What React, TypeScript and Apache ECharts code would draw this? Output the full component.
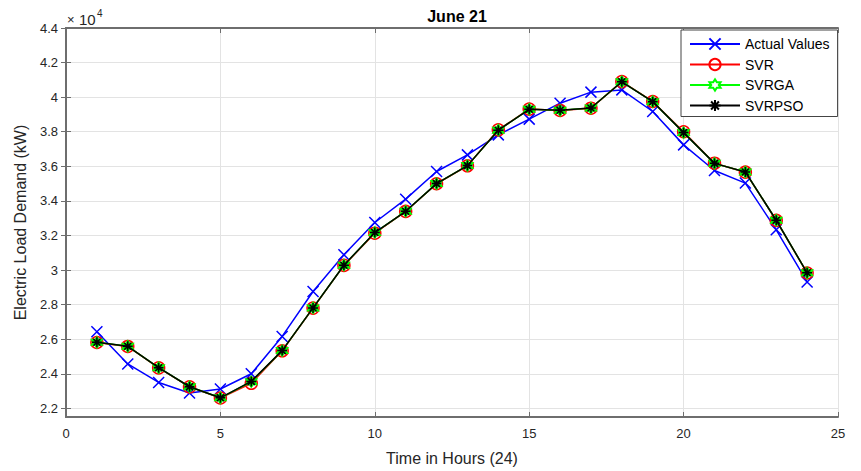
import React, { useEffect, useRef } from "react";
import * as echarts from "echarts";

const hours = [1, 2, 3, 4, 5, 6, 7, 8, 9, 10, 11, 12, 13, 14, 15, 16, 17, 18, 19, 20, 21, 22, 23, 24];
const actualValues = [26430, 24570, 23500, 22890, 23120, 24000, 26160, 28760, 30880, 32750, 34100, 35700, 36660, 37820, 38730, 39650, 40290, 40420, 39170, 37240, 35760, 35030, 32330, 29310];
const svrValues = [25810, 25580, 24340, 23240, 22600, 23450, 25330, 27800, 30270, 32130, 33390, 34990, 36030, 38110, 39310, 39230, 39360, 40900, 39750, 38000, 36180, 35660, 32870, 29830];
const svrgaValues = [25820, 25590, 24350, 23250, 22610, 23540, 25340, 27810, 30280, 32170, 33400, 35000, 36040, 38090, 39300, 39240, 39370, 40890, 39740, 37950, 36170, 35670, 32880, 29840];
const svrpsoValues = [25820, 25590, 24350, 23250, 22610, 23560, 25340, 27810, 30280, 32170, 33400, 35000, 36040, 38090, 39300, 39240, 39370, 40890, 39740, 37950, 36170, 35670, 32880, 29840];
const yTicks = [22000, 24000, 26000, 28000, 30000, 32000, 34000, 36000, 38000, 40000, 42000, 44000];

const FONT = "'Liberation Sans', Arial, Helvetica, sans-serif";
const AXIS_COLOR = "#6e6e6e";
const TEXT_COLOR = "#262626";
const GRID_COLOR = "#e3e3e3";

const SYM_X = "path://M0,0L10,10M10,0L0,10";
const SYM_STAR = "path://M5,0L5,10M0,5L10,5M1.5,1.5L8.5,8.5M8.5,1.5L1.5,8.5";
const SYM_HEX = "path://M5,0L6.44,2.5L9.33,2.5L7.89,5L9.33,7.5L6.44,7.5L5,10L3.56,7.5L0.67,7.5L2.11,5L0.67,2.5L3.56,2.5Z";

const pairs = (vals: number[]) => hours.map((h, i) => [h, vals[i]]);

export default function App() {
  const ref = useRef<HTMLDivElement>(null);
  useEffect(() => {
    document.body.style.margin = "0";
    const chart = echarts.init(ref.current!, null, { renderer: "svg" });
    const baseAxisLine = { show: true, lineStyle: { color: AXIS_COLOR, width: 2 } };
    chart.setOption({
      animation: false,
      backgroundColor: "#ffffff",
      textStyle: { fontFamily: FONT },
      title: {
        text: "June 21",
        left: 452,
        top: 3,
        textAlign: "center",
        textStyle: { fontFamily: FONT, fontSize: 16, fontWeight: "bold", color: "#000" },
      },
      legend: {
        orient: "vertical",
        left: 681,
        top: 30,
        padding: [7, 8, 4, 8],
        itemWidth: 50,
        itemHeight: 14,
        itemGap: 6.5,
        backgroundColor: "#ffffff",
        borderColor: "#444444",
        borderWidth: 1,
        textStyle: { fontFamily: FONT, fontSize: 14, color: "#000" },
        data: [
          { name: "Actual Values" },
          { name: "SVR" },
          { name: "SVRGA", itemStyle: { color: "#ffffff" } },
          { name: "SVRPSO" },
        ],
      },
      grid: { left: 66, right: 23, top: 28, bottom: 53, containLabel: false },
      xAxis: [
        {
          type: "value",
          min: 0,
          max: 25,
          interval: 5,
          name: "Time in Hours (24)",
          nameLocation: "middle",
          nameGap: 33,
          nameTextStyle: { fontFamily: FONT, fontSize: 16, color: TEXT_COLOR },
          axisLine: baseAxisLine,
          axisTick: { show: true, inside: true, length: 5, lineStyle: { color: AXIS_COLOR } },
          axisLabel: { fontFamily: FONT, fontSize: 13, color: TEXT_COLOR, margin: 10 },
          splitLine: { show: true, lineStyle: { color: GRID_COLOR, width: 1 } },
        },
        {
          type: "value",
          position: "top",
          min: 0,
          max: 25,
          interval: 5,
          axisLine: baseAxisLine,
          axisTick: { show: true, inside: true, length: 5, lineStyle: { color: AXIS_COLOR } },
          axisLabel: { show: false },
          splitLine: { show: false },
        },
      ],
      yAxis: [
        {
          type: "value",
          min: 21500,
          max: 44000,
          name: "Electric Load Demand (kW)",
          nameLocation: "middle",
          nameGap: 38,
          nameTextStyle: { fontFamily: FONT, fontSize: 16, color: TEXT_COLOR },
          axisLine: baseAxisLine,
          axisTick: { show: true, inside: true, length: 5, customValues: yTicks, lineStyle: { color: AXIS_COLOR } },
          axisLabel: {
            fontFamily: FONT,
            fontSize: 13,
            color: TEXT_COLOR,
            margin: 8,
            customValues: yTicks,
            formatter: (v: number) => String(Math.round(v / 1000) / 10),
          },
          splitLine: { show: true, customValues: yTicks, lineStyle: { color: GRID_COLOR, width: 1 } },
        },
        {
          type: "value",
          position: "right",
          min: 21500,
          max: 44000,
          axisLine: baseAxisLine,
          axisTick: { show: true, inside: true, length: 5, customValues: yTicks, lineStyle: { color: AXIS_COLOR } },
          axisLabel: { show: false, customValues: yTicks },
          splitLine: { show: false },
        },
      ],
      graphic: [
        {
          type: "text",
          left: 67,
          top: 13,
          style: { text: "×", fontFamily: FONT, fontSize: 13, fill: TEXT_COLOR },
        },
        {
          type: "text",
          left: 79,
          top: 12,
          style: { text: "10", fontFamily: FONT, fontSize: 15, fill: TEXT_COLOR },
        },
        {
          type: "text",
          left: 97,
          top: 8,
          style: { text: "4", fontFamily: FONT, fontSize: 10, fill: TEXT_COLOR },
        },
      ],
      series: [
        {
          name: "Actual Values",
          type: "line",
          data: pairs(actualValues),
          symbol: SYM_X,
          symbolSize: 11,
          lineStyle: { color: "#0000ff", width: 1.5 },
          itemStyle: { color: "#0000ff", borderColor: "#0000ff", borderWidth: 1.5 },
          z: 2,
        },
        {
          name: "SVR",
          type: "line",
          data: pairs(svrValues),
          symbol: "circle",
          symbolSize: 12,
          lineStyle: { color: "#ff0000", width: 1.5 },
          itemStyle: { color: "rgba(255,255,255,0)", borderColor: "#ff0000", borderWidth: 1.5 },
          z: 3,
        },
        {
          name: "SVRGA",
          type: "line",
          data: pairs(svrgaValues),
          symbol: SYM_HEX,
          symbolSize: 11,
          lineStyle: { color: "#00ff00", width: 1.5 },
          itemStyle: { color: "#00cc00", borderColor: "#00ff00", borderWidth: 1.5 },
          z: 4,
        },
        {
          name: "SVRPSO",
          type: "line",
          data: pairs(svrpsoValues),
          symbol: SYM_STAR,
          symbolSize: 10,
          lineStyle: { color: "#000000", width: 1.5 },
          itemStyle: { color: "#000000", borderColor: "#000000", borderWidth: 1.5 },
          z: 5,
        },
      ],
    });
    return () => chart.dispose();
  }, []);
  return <div ref={ref} style={{ width: 861, height: 471 }} />;
}
